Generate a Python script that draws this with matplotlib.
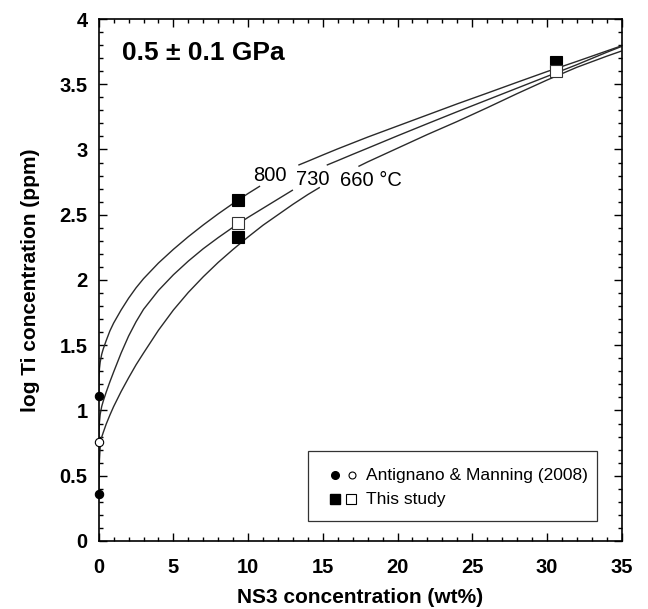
import matplotlib
matplotlib.use("Agg")
import matplotlib.pyplot as plt
from matplotlib.ticker import MultipleLocator, FuncFormatter
from matplotlib.patches import Rectangle

plt.rcParams['font.family'] = ['Liberation Sans', 'DejaVu Sans']

# ---- data ----
# fitted isotherms (log Ti vs NS3 wt%), each split in two parts around its label
c800_x1 = [0, 0.02, 0.05, 0.1, 0.2, 0.3, 0.5, 0.75, 1.0, 1.5, 2.0, 2.5, 3.0, 4.0, 5.0, 6.0, 7.0, 8.0, 9.0, 10.0, 10.8]
c800_y1 = [1.11, 1.25, 1.32, 1.37, 1.43, 1.47, 1.535, 1.61, 1.67, 1.77, 1.86, 1.94, 2.01, 2.13, 2.235, 2.332, 2.422, 2.507, 2.587, 2.663, 2.72]
c800_x2 = [13.36, 14, 15, 16, 17, 18, 20, 22, 24, 26, 28, 30, 32, 34, 35]
c800_y2 = [2.88, 2.91, 2.958, 3.005, 3.05, 3.095, 3.18, 3.265, 3.35, 3.432, 3.515, 3.597, 3.675, 3.755, 3.795]

c730_x1 = [0, 0.02, 0.05, 0.1, 0.2, 0.3, 0.5, 0.75, 1, 1.5, 2, 2.5, 3, 4, 5, 6, 7, 8, 9, 10, 11, 12, 13]
c730_y1 = [0.76, 0.84, 0.91, 0.97, 1.03, 1.07, 1.14, 1.22, 1.295, 1.44, 1.57, 1.68, 1.775, 1.92, 2.04, 2.145, 2.24, 2.325, 2.405, 2.48, 2.55, 2.62, 2.69]
c730_x2 = [15.26, 16, 17, 18, 20, 22, 24, 26, 28, 30, 32, 34, 35]
c730_y2 = [2.88, 2.915, 2.963, 3.01, 3.105, 3.198, 3.29, 3.38, 3.47, 3.56, 3.65, 3.745, 3.79]

c660_x1 = [0, 0.02, 0.05, 0.12, 0.2, 0.3, 0.5, 0.75, 1, 1.5, 2, 2.5, 3, 4, 5, 6, 7, 8, 9, 10, 11, 12, 13, 14, 14.8]
c660_y1 = [0.36, 0.50, 0.62, 0.76, 0.795, 0.83, 0.895, 0.965, 1.03, 1.145, 1.25, 1.35, 1.44, 1.615, 1.77, 1.905, 2.025, 2.135, 2.235, 2.33, 2.42, 2.50, 2.58, 2.655, 2.71]
c660_x2 = [17.38, 18, 20, 22, 24, 26, 28, 30, 32, 34, 35]
c660_y2 = [2.87, 2.905, 3.01, 3.115, 3.215, 3.32, 3.428, 3.532, 3.63, 3.715, 3.755]

# Antignano & Manning (2008), pure H2O
am_filled_x = [0, 0]
am_filled_y = [1.11, 0.36]
am_open_x = [0]
am_open_y = [0.76]

# This study
ts_filled_x = [9.35, 9.35, 30.6]
ts_filled_y = [2.61, 2.33, 3.67]
ts_open_x = [9.35, 30.6]
ts_open_y = [2.44, 3.60]

curve_labels = ["800", "730", "660 \u00b0C"]
xticks = [0, 5, 10, 15, 20, 25, 30, 35]
yticks = [0, 0.5, 1, 1.5, 2, 2.5, 3, 3.5, 4]
legend_labels = ["Antignano & Manning (2008)", "This study"]

# ---- figure ----
fig = plt.figure(figsize=(6.48, 6.09), dpi=100)
ax = fig.add_axes([0.1523, 0.1117, 0.8071, 0.8571])

lc = '#2a2a2a'
lw = 1.0
for xs, ys in [(c800_x1, c800_y1), (c800_x2, c800_y2),
               (c730_x1, c730_y1), (c730_x2, c730_y2),
               (c660_x1, c660_y1), (c660_x2, c660_y2)]:
    ax.plot(xs, ys, color=lc, lw=lw, solid_capstyle='butt',
            solid_joinstyle='round', zorder=2)

ax.plot(am_filled_x, am_filled_y, 'o', ms=6, mfc='black', mec='black', mew=0.8,
        clip_on=False, zorder=5, linestyle='none')
ax.plot(am_open_x, am_open_y, 'o', ms=6, mfc='white', mec='black', mew=0.8,
        clip_on=False, zorder=5, linestyle='none')
ax.plot(ts_filled_x, ts_filled_y, 's', ms=8.5, mfc='black', mec='black', mew=0.8,
        zorder=5, linestyle='none')
ax.plot(ts_open_x, ts_open_y, 's', ms=8.5, mfc='white', mec='#333333', mew=0.8,
        zorder=6, linestyle='none')

# curve labels
ax.text(11.47, 2.80, curve_labels[0], fontsize=14.5, ha='center', va='center')
ax.text(14.34, 2.77, curve_labels[1], fontsize=14.5, ha='center', va='center')
ax.text(16.15, 2.76, curve_labels[2], fontsize=14.5, ha='left', va='center')

# pressure annotation
ax.text(1.56, 3.74, "0.5 \u00b1 0.1 GPa", fontsize=19, fontweight='bold',
        ha='left', va='center')

# axes
ax.set_xlim(0, 35)
ax.set_ylim(0, 4)
ax.set_xticks(xticks)
ax.set_yticks(yticks)
ax.xaxis.set_minor_locator(MultipleLocator(1))
ax.yaxis.set_minor_locator(MultipleLocator(0.1))
ax.yaxis.set_major_formatter(FuncFormatter(lambda v, p: ('%g' % v)))
ax.tick_params(which='both', direction='in', top=True, right=True, width=1.0)
ax.tick_params(which='major', length=6, labelsize=14.5)
ax.tick_params(which='minor', length=3)
ax.tick_params(axis='x', which='major', pad=12)
ax.tick_params(axis='y', which='major', pad=8)
for lab in ax.get_xticklabels() + ax.get_yticklabels():
    lab.set_fontweight('bold')
for s in ax.spines.values():
    s.set_linewidth(1.2)

ax.set_xlabel("NS3 concentration (wt%)", fontsize=15, fontweight='bold', labelpad=8)
ax.set_ylabel("log Ti concentration (ppm)", fontsize=15, fontweight='bold', labelpad=14)

# legend box (manual)
t = ax.transAxes
ax.add_patch(Rectangle((0.401, 0.039), 0.552, 0.133, transform=t, fill=False,
                       edgecolor='#333333', lw=0.9, zorder=7))
ax.plot([0.452], [0.126], 'o', ms=5.5, mfc='black', mec='black', transform=t, zorder=8)
ax.plot([0.484], [0.126], 'o', ms=5, mfc='white', mec='black', mew=0.8, transform=t, zorder=8)
ax.plot([0.452], [0.080], 's', ms=7, mfc='black', mec='black', transform=t, zorder=8)
ax.plot([0.482], [0.080], 's', ms=7, mfc='white', mec='black', mew=0.8, transform=t, zorder=8)
ax.text(0.512, 0.126, legend_labels[0], transform=t, fontsize=12.5, ha='left', va='center')
ax.text(0.512, 0.080, legend_labels[1], transform=t, fontsize=12.5, ha='left', va='center')

fig.savefig("out.png", dpi=100)
